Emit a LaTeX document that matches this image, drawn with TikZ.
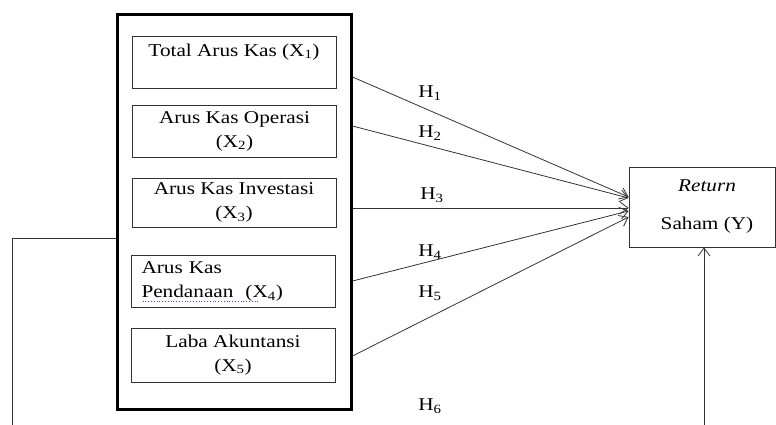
\documentclass[tikz,border=0pt]{standalone}
\usepackage{fontspec}
\setmainfont{Liberation Serif}[FakeStretch=1.18]
\usepackage{tikz}
\usetikzlibrary{arrows.meta,calc}
\definecolor{lineink}{HTML}{333333}
\definecolor{spellblue}{HTML}{3B4FC4}
\tikzset{
  varbox/.style={draw=lineink,line width=0.8pt,minimum width=204pt,
    minimum height=52pt,align=center,inner sep=0pt},
  hyp/.style={draw=lineink,line width=0.8pt,
    -{Straight Barb[length=8pt,width=12pt]}},
  hlabel/.style={inner sep=0pt}
}
\begin{document}
\begin{tikzpicture}[x=1pt,y=-1pt,font=\fontsize{18}{24}\selectfont]
  \useasboundingbox (0,0) rectangle (776,425);
  % outer frame round the five variables
  \node[draw=black,line width=3pt,minimum width=234pt,minimum height=394pt]
    (frame) at (234,212) {};
  \node[varbox] (x1) at (234,62) {Total Arus Kas (X\textsubscript{1})\\\mbox{}};
  \node[varbox] (x2) at (234.5,131) {Arus Kas Operasi\\(X\textsubscript{2})};
  \node[varbox,minimum height=49pt] (x3) at (234,202.5)
    {Arus Kas Investasi\\(X\textsubscript{3})};
  \node[varbox,text width=184pt,align=left] (x4) at (233.5,281.5)
    {Arus Kas\\Pendanaan~~(X\textsubscript{4})};
  \node[varbox,minimum height=54pt] (x5) at (233,355)
    {Laba Akuntansi\\(X\textsubscript{5})};
  \draw[spellblue,dotted,line width=0.8pt]
    ($(x4.center)+(-91,19.5)$) -- ++(115,0);
  % dependent variable
  \node[draw=lineink,line width=0.8pt,minimum width=146pt,minimum height=80pt,
    align=center,inner sep=0pt] (ret) at (702,207)
    {\hspace*{10pt}\textit{Return}\\[14pt]\hspace*{10pt}Saham (Y)};
  % hypotheses
  \draw[hyp] (frame.east |- 0,77) -- ([yshift=10pt]ret.west);
  \draw[hyp] (frame.east |- 0,126) -- ([yshift=9pt]ret.west);
  \draw[hyp] (frame.east |- 0,208) -- ([yshift=-1pt]ret.west);
  \draw[hyp] (frame.east |- 0,281) -- ([yshift=-4pt]ret.west);
  \draw[hyp] (frame.east |- 0,356) -- ([yshift=-10pt]ret.west);
  \node[hlabel] (h1) at (430,93) {H\textsubscript{1}};
  \node[hlabel] (h2) at (430,133) {H\textsubscript{2}};
  \node[hlabel] (h3) at (432,195) {H\textsubscript{3}};
  \node[hlabel] (h4) at (430,252) {H\textsubscript{4}};
  \node[hlabel] (h5) at (430,293) {H\textsubscript{5}};
  \node[hlabel] (h6) at (430,406) {H\textsubscript{6}};
  % H6 path round the bottom
  \coordinate (fbl) at (12,425);
  \coordinate (fbr) at (704,425);
  \draw[lineink,line width=0.8pt] (frame.west |- 0,238) -| (fbl);
  \draw[hyp] (fbr) -- (fbr |- ret.south);
\end{tikzpicture}
\end{document}
